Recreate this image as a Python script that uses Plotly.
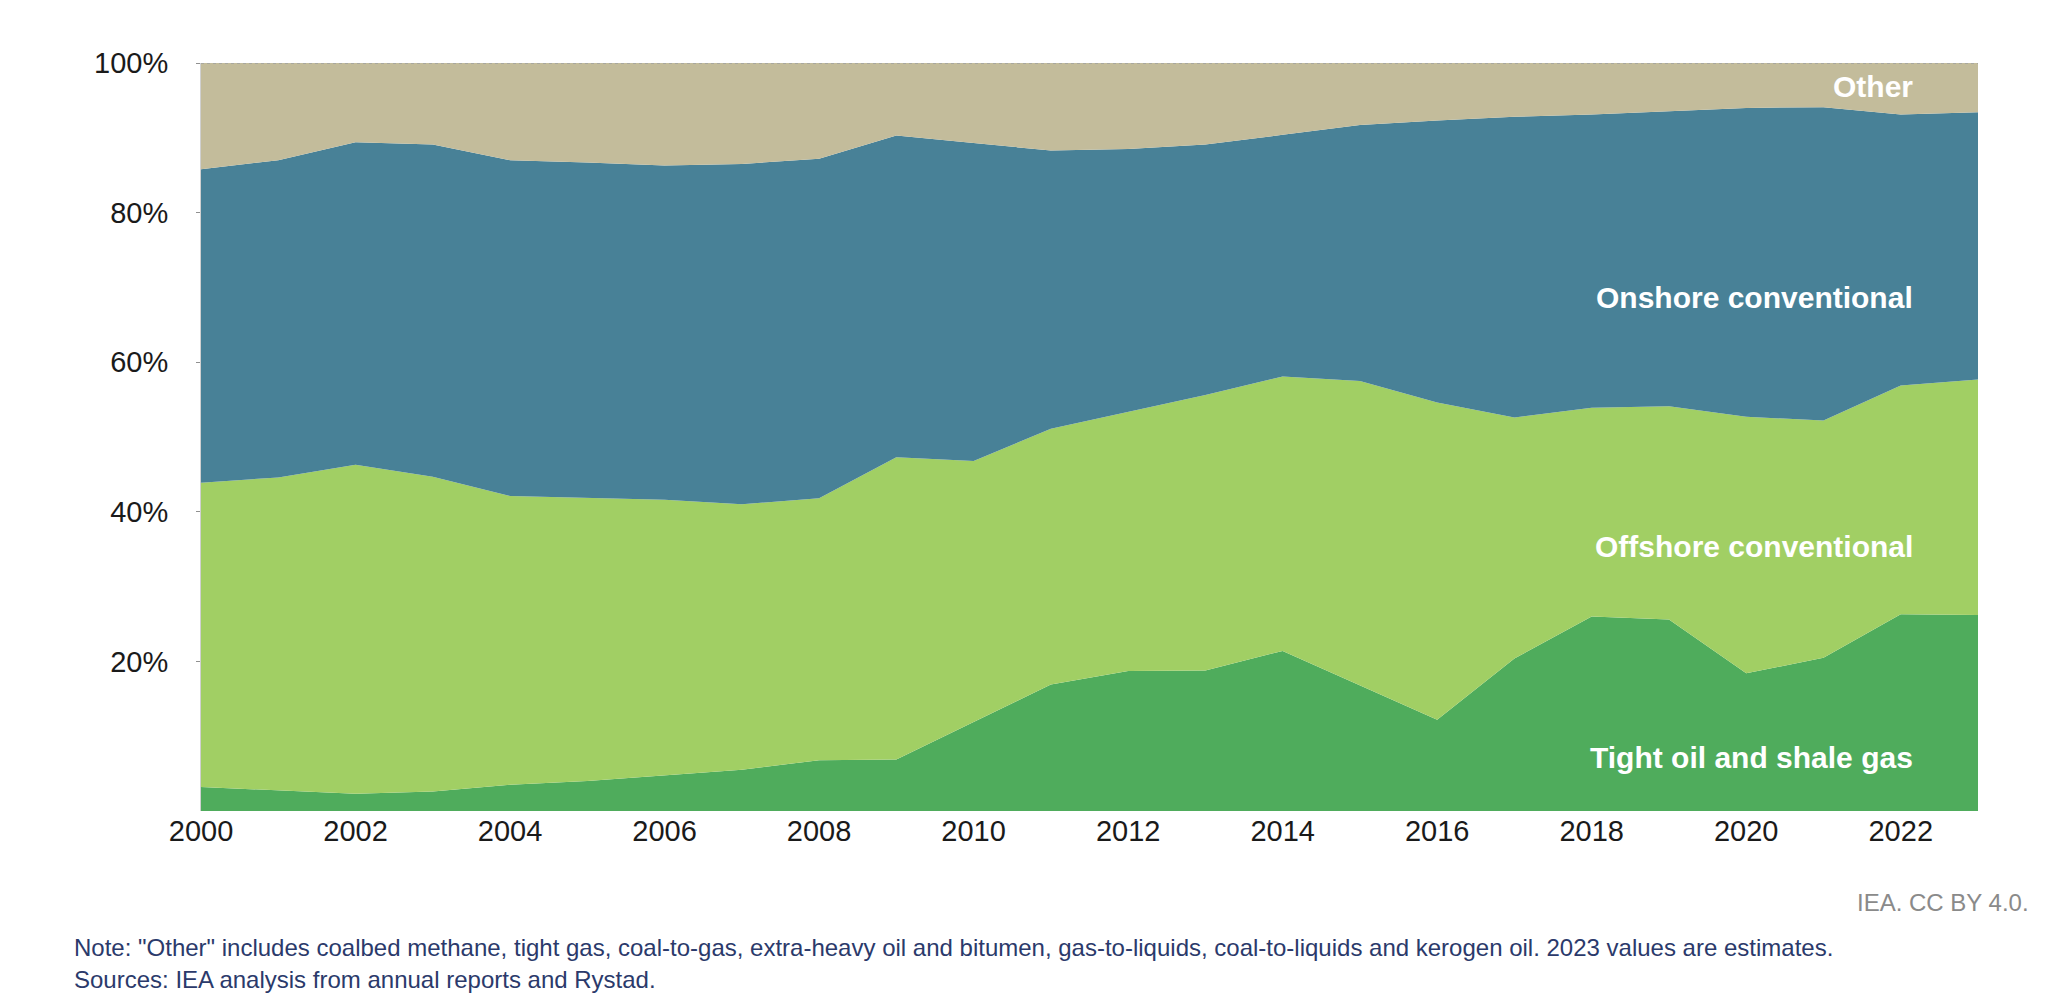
import plotly.graph_objects as go

years = list(range(2000, 2024))
tight_oil_shale_gas = [3.2, 2.8, 2.3, 2.6, 3.5, 4.0, 4.7, 5.5, 6.8, 6.9, 11.9, 16.9,
                       18.7, 18.8, 21.4, 16.8, 12.2, 20.4, 26.0, 25.6, 18.4, 20.5, 26.3, 26.2]
offshore_conventional = [40.7, 41.8, 44.0, 42.1, 38.6, 37.9, 36.9, 35.5, 35.0, 40.4, 34.9, 34.2,
                         34.7, 36.8, 36.7, 40.7, 42.4, 32.2, 27.9, 28.5, 34.3, 31.7, 30.6, 31.5]
onshore_conventional = [41.9, 42.4, 43.1, 44.4, 44.9, 44.8, 44.7, 45.5, 45.4, 43.0, 42.5, 37.2,
                        35.1, 33.5, 32.3, 34.2, 37.7, 40.2, 39.2, 39.4, 41.3, 41.9, 36.2, 35.7]
other = [14.2, 13.0, 10.6, 10.9, 13.0, 13.3, 13.7, 13.5, 12.8, 9.7, 10.7, 11.7,
         11.5, 10.9, 9.6, 8.3, 7.7, 7.2, 6.9, 6.5, 6.0, 5.9, 6.9, 6.6]

series_names = ["Tight oil and shale gas", "Offshore conventional", "Onshore conventional", "Other"]
series_values = [tight_oil_shale_gas, offshore_conventional, onshore_conventional, other]
series_colors = ["#4FAC5C", "#A1CF64", "#488197", "#C3BC9B"]

y_tick_vals = [20, 40, 60, 80, 100]
y_tick_text = ["20%", "40%", "60%", "80%", "100%"]
x_tick_vals = list(range(2000, 2023, 2))

# label anchor positions (data coords)
label_y = {"Other": 96.8, "Onshore conventional": 68.6,
           "Offshore conventional": 35.3, "Tight oil and shale gas": 7.2}

W, H = 2048, 1008
L, R, T, B = 201, 70, 63, 197
PW, PH = W - L - R, H - T - B


def px(x):
    return (x - L) / PW


def py(y):
    return (H - B - y) / PH


fig = go.Figure()
for name, vals, col in zip(series_names, series_values, series_colors):
    fig.add_trace(go.Scatter(
        x=years, y=vals, name=name, mode="lines", stackgroup="one",
        groupnorm="percent", line=dict(width=0, color=col), fillcolor=col,
        hoverinfo="x+y+name", showlegend=False,
    ))

for name, yv in label_y.items():
    fig.add_annotation(x=px(1915), xref="paper", y=yv, yref="y",
                       text=name, showarrow=False, xanchor="right", yanchor="middle",
                       font=dict(family="Liberation Sans, Arial, sans-serif", size=30,
                                 color="white", weight="bold"))

# top dotted border at 100%
fig.add_shape(type="line", xref="x", yref="y", x0=2000, x1=2023, y0=100, y1=100,
              line=dict(color="#A0A0A0", width=1.5, dash="dot"), layer="above")

fig.add_annotation(x=px(2031), xref="paper", y=py(902), yref="paper", text="IEA. CC BY 4.0.",
                   showarrow=False, xanchor="right", yanchor="middle",
                   font=dict(family="Liberation Sans, Arial, sans-serif", size=24, color="#8A8A8A"))
fig.add_annotation(x=px(72), xref="paper", y=py(947), yref="paper",
                   text="Note: \"Other\" includes coalbed methane, tight gas, coal-to-gas, extra-heavy oil and bitumen, gas-to-liquids, coal-to-liquids and kerogen oil. 2023 values are estimates.",
                   showarrow=False, xanchor="left", yanchor="middle",
                   font=dict(family="Liberation Sans, Arial, sans-serif", size=24, color="#2B3A6B"))
fig.add_annotation(x=px(72), xref="paper", y=py(979), yref="paper",
                   text="Sources: IEA analysis from annual reports and Rystad.",
                   showarrow=False, xanchor="left", yanchor="middle",
                   font=dict(family="Liberation Sans, Arial, sans-serif", size=24, color="#2B3A6B"))

fig.update_layout(
    width=W, height=H,
    margin=dict(l=L, r=R, t=T, b=B, pad=0),
    paper_bgcolor="white", plot_bgcolor="white",
    font=dict(family="Liberation Sans, Arial, sans-serif", size=29, color="#1A1A1A"),
    xaxis=dict(range=[2000, 2023], tickvals=x_tick_vals, ticktext=[str(v) for v in x_tick_vals],
               showgrid=False, zeroline=False, showline=False, ticks="",
               tickfont=dict(size=29, color="#1A1A1A")),
    yaxis=dict(range=[0, 100], tickvals=y_tick_vals, ticktext=y_tick_text,
               showgrid=False, zeroline=False, showline=True, linecolor="#D0D0D0", linewidth=1,
               ticks="outside", ticklen=4, tickcolor="#909090", ticklabelstandoff=22,
               tickfont=dict(size=29, color="#1A1A1A")),
)

fig.write_html("out.html")
